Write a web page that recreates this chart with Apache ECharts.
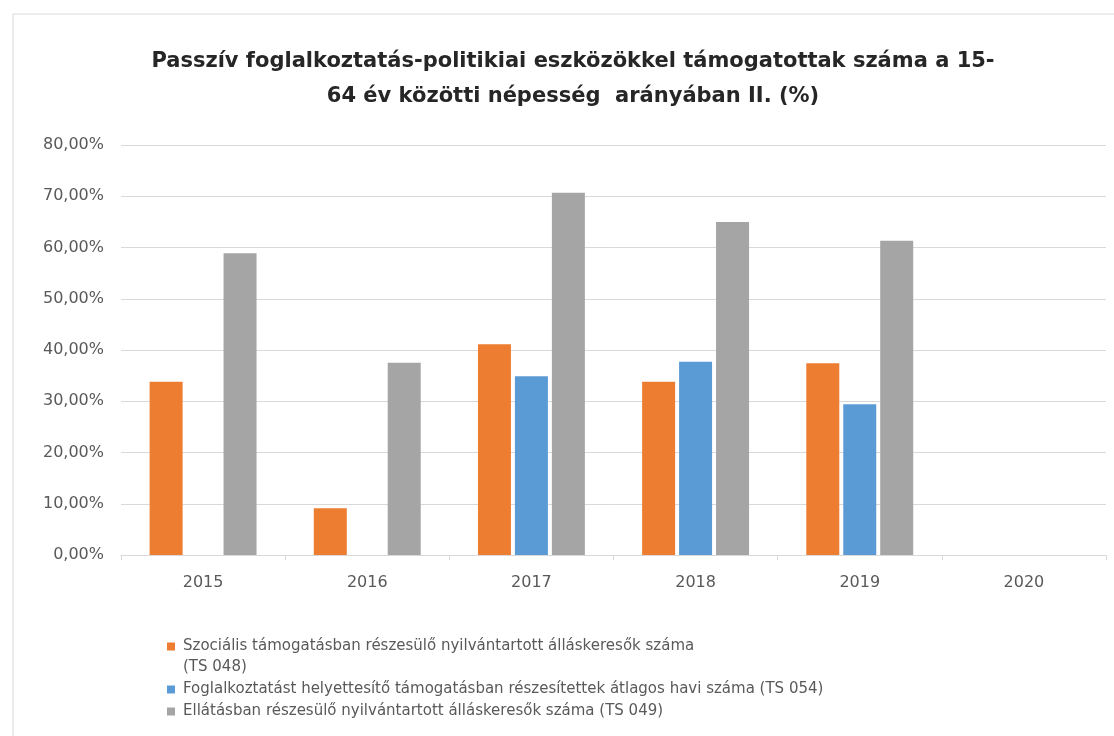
<!DOCTYPE html>
<html>
<head>
<meta charset="utf-8">
<script src="https://cdn.jsdelivr.net/npm/echarts@6/dist/echarts.min.js"></script>
<style>
    html, body { margin: 0; padding: 0; background: #fff; }
    #chart { width: 1114px; height: 736px; }
</style>
</head>
<body>
<div id="chart"></div>
<script>
const years = ['2015', '2016', '2017', '2018', '2019', '2020'];
const szocialis = [33.8, 9.1, 41.1, 33.8, 37.4, null];
const foglalkoztatast = [null, null, 34.9, 37.7, 29.4, null];
const ellatas = [58.9, 37.5, 70.7, 65.0, 61.3, null];

const names = [
    'Szociális támogatásban részesülő nyilvántartott álláskeresők száma',
    'Foglalkoztatást helyettesítő támogatásban részesítettek átlagos havi száma (TS 054)',
    'Ellátásban részesülő nyilvántartott álláskeresők száma (TS 049)'
];
// second line of the first legend entry
const wrapLine = '(TS 048)';
const colors = ['#ED7D31', '#5B9BD5', '#A5A5A5'];

const chart = echarts.init(document.getElementById('chart'));

const font = '"DejaVu Sans", sans-serif';
const legendText = { color: '#595959', fontSize: 15, fontFamily: font, padding: [0, 0, 0, 3] };

function legendFor(i, top) {
    return {
        data: [names[i]],
        left: 167, top: top, padding: 0,
        itemWidth: 8, itemHeight: 8, icon: 'rect', itemGap: 0,
        textStyle: legendText
    };
}

chart.setOption({
    backgroundColor: '#fff',
    color: colors,
    title: {
        text: 'Passzív foglalkoztatás-politikiai eszközökkel támogatottak száma a 15-\n64 év közötti népesség  arányában II. (%)',
        left: 568,
        top: 39,
        textAlign: 'center',
        textStyle: {
            color: '#262626',
            fontSize: 21,
            fontWeight: 'bold',
            fontFamily: font,
            lineHeight: 35
        }
    },
    graphic: [
        {
            type: 'rect',
            shape: { x: 13, y: 14, width: 1200, height: 800 },
            style: { fill: 'none', stroke: '#d9d9d9', lineWidth: 1 },
            silent: true
        },
        {
            type: 'text',
            left: 183, top: 660,
            style: { text: wrapLine, fill: '#595959', fontSize: 15, fontFamily: font },
            silent: true
        }
    ],
    legend: [legendFor(0, 639), legendFor(1, 682), legendFor(2, 704)],
    grid: {
        left: 121,
        right: 8,
        top: 145,
        bottom: 181
    },
    xAxis: {
        type: 'category',
        data: years,
        axisLine: { lineStyle: { color: '#d9d9d9' } },
        axisTick: { show: true, alignWithLabel: false, length: 5, lineStyle: { color: '#d9d9d9' } },
        axisLabel: { color: '#595959', fontSize: 16, margin: 20, fontFamily: font }
    },
    yAxis: {
        type: 'value',
        min: 0,
        max: 80,
        interval: 10,
        axisLine: { show: false },
        axisTick: { show: false },
        axisLabel: {
            color: '#595959',
            fontSize: 16,
            margin: 17,
            fontFamily: font,
            formatter: v => v.toFixed(2).replace('.', ',') + '%'
        },
        splitLine: { lineStyle: { color: '#d9d9d9' } }
    },
    series: [
        { name: names[0], type: 'bar', data: szocialis, barWidth: 33, barGap: '12%' },
        { name: names[1], type: 'bar', data: foglalkoztatast, barWidth: 33, barGap: '12%' },
        { name: names[2], type: 'bar', data: ellatas, barWidth: 33, barGap: '12%' }
    ]
});
</script>
</body>
</html>
